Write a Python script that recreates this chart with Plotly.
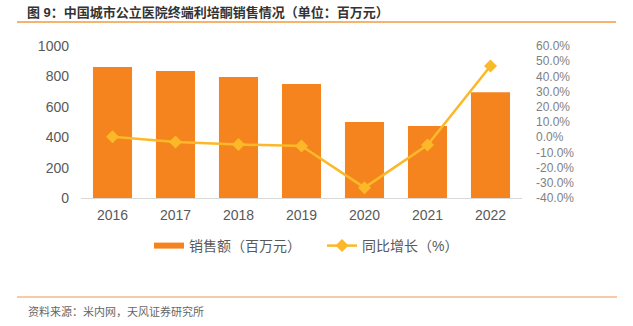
import plotly.graph_objects as go

years = ["2016", "2017", "2018", "2019", "2020", "2021", "2022"]
sales = [862, 835, 796, 750, 500, 474, 695]
growth = [0.3, -3.1, -4.8, -5.8, -33.2, -5.2, 46.8]
left_ticks = [0, 200, 400, 600, 800, 1000]
right_ticks = [-40, -30, -20, -10, 0, 10, 20, 30, 40, 50, 60]
right_labels = ["-40.0%", "-30.0%", "-20.0%", "-10.0%", "0.0%", "10.0%",
                "20.0%", "30.0%", "40.0%", "50.0%", "60.0%"]

W, H = 633, 326
L, R, T, B = 81, 522, 46, 198

BAR = "#F5841F"
LINE = "#FBB829"
FONT = "Liberation Sans, Noto Sans CJK SC, sans-serif"

def px(x):
    return (x - L) / (R - L)

def py(y):
    return (B - y) / (B - T)

fig = go.Figure()
fig.add_trace(go.Bar(x=years, y=sales, marker_color=BAR, marker_line_width=0,
                     width=0.62, showlegend=False, name="销售额（百万元）"))
fig.add_trace(go.Scatter(x=[None], y=[None], mode="lines", name="销售额（百万元）",
                         line=dict(color=BAR, width=6)))
fig.add_trace(go.Scatter(x=years, y=growth, yaxis="y2", mode="lines+markers",
                         name="同比增长（%）",
                         line=dict(color=LINE, width=2.5),
                         marker=dict(symbol="diamond", size=10, color=LINE)))

fig.update_layout(
    width=W, height=H,
    margin=dict(l=L, r=W - R, t=T, b=H - B, pad=0, autoexpand=False),
    paper_bgcolor="white", plot_bgcolor="white",
    font=dict(family=FONT, color="#595959", size=14),
    xaxis=dict(showgrid=False, showline=True, linecolor="#D9D9D9", linewidth=1,
               ticks="", tickfont=dict(size=14, color="#595959"), ticklabelstandoff=4),
    yaxis=dict(range=[0, 1000], tickvals=left_ticks, showgrid=False, zeroline=False,
               showline=False, ticks="", tickfont=dict(size=14, color="#595959"),
               ticklabelstandoff=11),
    yaxis2=dict(range=[-40, 60], tickvals=right_ticks, ticktext=right_labels,
                overlaying="y", side="right",
                showgrid=False, zeroline=False, showline=False, ticks="",
                tickfont=dict(size=12, color="#7F7F7F"), ticklabelstandoff=13),
    legend=dict(orientation="h", x=149 / W, xanchor="left", xref="container",
                y=1 - 246 / H, yanchor="middle", yref="container",
                font=dict(size=14, color="#595959"), itemwidth=30,
                entrywidth=128, entrywidthmode="pixels",
                traceorder="normal"),
    title=dict(text="<b>图 9：中国城市公立医院终端利培酮销售情况（单位：百万元）</b>",
               x=27 / W, xanchor="left", xref="container",
               y=1 - 12 / H, yanchor="middle", yref="container",
               font=dict(size=13, color="#333333")),
    shapes=[
        dict(type="line", xref="paper", yref="paper", x0=px(17), x1=px(616),
             y0=py(22), y1=py(22), line=dict(color="#F39A3D", width=1.5)),
        dict(type="line", xref="paper", yref="paper", x0=px(17), x1=px(617),
             y0=py(297), y1=py(297), line=dict(color="#F7B98A", width=1.5)),
    ],
    annotations=[
        dict(text="资料来源：米内网，天风证券研究所", xref="paper", yref="paper",
             x=px(26), y=py(311), xanchor="left", yanchor="middle", showarrow=False,
             font=dict(size=11, color="#666666")),
    ],
)

fig.write_html("out.html")
